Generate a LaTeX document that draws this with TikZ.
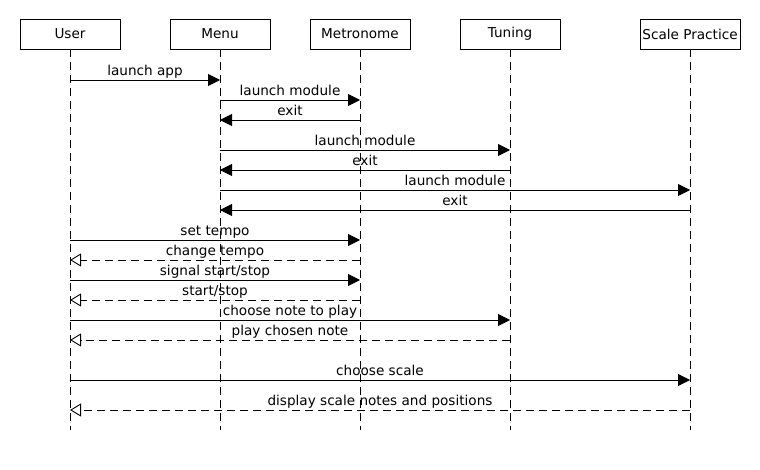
\documentclass[tikz,border=0pt]{standalone}
\usepackage{fontspec}
\setmainfont{DejaVu Sans}
\usetikzlibrary{arrows.meta}

\begin{document}
\begin{tikzpicture}[x=1pt,y=-1pt]
	\tikzstyle{every path}=[line width=0.9pt]
	\tikzstyle{every node}=[font=\fontsize{13.6}{15}\selectfont]

	\tikzstyle{actor}=[draw,minimum width=100pt,minimum height=30pt,inner sep=0pt]
	\tikzstyle{lifeline}=[dash pattern=on 8pt off 5pt]
	\tikzstyle{callmsg}=[-{Triangle[length=12pt,width=12pt]}]
	\tikzstyle{replymsg}=[-{Triangle[open,length=11pt,width=13pt]},dash pattern=on 8pt off 5pt]
	\tikzstyle{msglabel}=[anchor=base,yshift=4.5pt,inner sep=0pt]

	\fill[white] (0,0) rectangle (760,470);
	\useasboundingbox (0,0) rectangle (760,470);

	%% Participants
	\node [actor] (user) at (70,34) {User};
	\node [actor] (menu) at (220,34) {Menu};
	\node [actor] (metro) at (360,34) {Metronome};
	\node [actor] (tuning) at (510,34) {Tuning};
	\node [actor] (scale) at (690,34) {Scale Practice};

	%% Lifelines
	\foreach \who in {user,menu,metro,tuning,scale}
		\draw [lifeline] (\who.south) -- (\who |- 0,430);

	%% Messages
	\foreach \src/\dst/\y/\txt/\kind in {
		user/menu/80/{launch app}/callmsg,
		menu/metro/100/{launch module}/callmsg,
		metro/menu/120/{exit}/callmsg,
		menu/tuning/150/{launch module}/callmsg,
		tuning/menu/170/{exit}/callmsg,
		menu/scale/190/{launch module}/callmsg,
		scale/menu/210/{exit}/callmsg,
		user/metro/240/{set tempo}/callmsg,
		metro/user/260/{change tempo}/replymsg,
		user/metro/280/{signal start/stop}/callmsg,
		metro/user/300/{start/stop}/replymsg,
		user/tuning/320/{choose note to play}/callmsg,
		tuning/user/340/{play chosen note}/replymsg,
		user/scale/380/{choose scale}/callmsg,
		scale/user/410/{display scale notes and positions}/replymsg}
		\draw [\kind] (\src |- 0,\y) -- node [msglabel] {\txt} (\dst |- 0,\y);

\end{tikzpicture}
\end{document}
